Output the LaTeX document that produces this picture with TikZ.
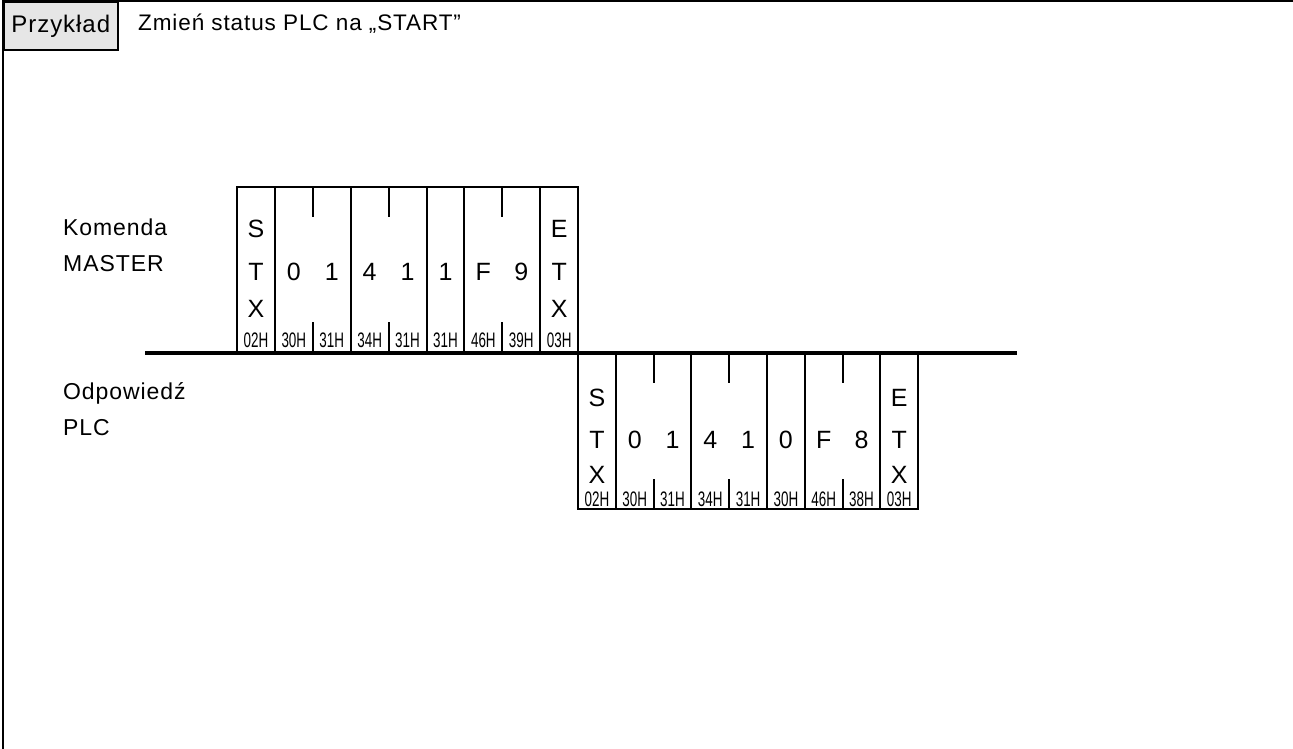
\documentclass[tikz,border=0pt]{standalone}
\usepackage{fontspec}
\setmainfont{Liberation Sans}[LetterSpace=4]
\newfontfamily\hexfont[FakeStretch=0.64]{Liberation Sans}
\usepackage{xcolor}
\usepackage{tikz}
\usetikzlibrary{positioning}
\definecolor{boxgray}{HTML}{E6E6E6}

\begin{document}
\begin{tikzpicture}[
    x=1pt, y=-1pt,
    frame/.style={draw, line width=2pt},
    cell/.style={font=\fontsize{25}{25}\selectfont, inner sep=0pt},
    hex/.style={font=\hexfont\fontsize{21}{21}\selectfont, inner sep=0pt},
    side/.style={font=\fontsize{23}{36}\selectfont, align=left, anchor=west, inner sep=0pt}
]
\useasboundingbox (0,0) rectangle (1293,749);

% Page frame and header
\coordinate (topR) at (1293,1);
\coordinate (topL) at (3,1);
\coordinate (botL) at (3,749);
\draw[line width=2pt] (topR) -- (topL) -- (botL);
\node[draw, line width=1.6pt, fill=boxgray, minimum width=114, minimum height=48, anchor=north west,
      font=\fontsize{24}{24}\selectfont] (przyklad) at (3,1) {Przykład};
\node[font=\fontsize{22.5}{22.5}\selectfont, anchor=west, inner sep=0pt] (title) at (138,24) {Zmień status PLC na „START”};

% Side labels
\node[side] (master) at (63,245) {Komenda\\MASTER};
\node[side] (plc) at (63,409) {Odpowiedź\\PLC};

% Bus line
\coordinate (busL) at (145,353);
\coordinate (busR) at (1017,353);
\draw[line width=4pt] (busL) -- (busR);

% MASTER command
\begin{scope}[shift={(237,187)}]
  \draw[frame] (0,0) rectangle (341,166);
  \foreach \x in {1,3,5,6,8} \draw[frame] (\x*37.9,0) -- (\x*37.9,166);
  \foreach \x in {2,4,7} {
    \draw[frame] (\x*37.9,0) -- ++(0,30);
    \draw[frame] (\x*37.9,166) -- ++(0,-31);
  }
  \node[cell] (mS) at (18.95,42) {S};
  \node[cell] (mT) at (18.95,85) {T};
  \node[cell] (mX) at (18.95,122) {X};
  \node[cell] (mE2) at (8*37.9+18.95,42) {E};
  \node[cell] (mT2) at (8*37.9+18.95,85) {T};
  \node[cell] (mX2) at (8*37.9+18.95,122) {X};
  \foreach \c [count=\i] in {0,1,4,1,1,F,9}
    \node[cell] (m\i) at (\i*37.9+18.95,85) {\c};
  \foreach \h [count=\i from 0] in {02H,30H,31H,34H,31H,31H,46H,39H,03H}
    \node[hex] (mh\i) at (\i*37.9+18.95,153) {\h};
\end{scope}

% PLC response
\begin{scope}[shift={(578,353)}]
  \draw[frame] (0,0) rectangle (340,156);
  \foreach \x in {1,3,5,6,8} \draw[frame] (\x*37.8,0) -- (\x*37.8,156);
  \foreach \x in {2,4,7} {
    \draw[frame] (\x*37.8,0) -- ++(0,30);
    \draw[frame] (\x*37.8,156) -- ++(0,-30);
  }
  \node[cell] (pS) at (18.9,45) {S};
  \node[cell] (pT) at (18.9,87) {T};
  \node[cell] (pX) at (18.9,122) {X};
  \node[cell] (pE2) at (8*37.8+18.9,45) {E};
  \node[cell] (pT2) at (8*37.8+18.9,87) {T};
  \node[cell] (pX2) at (8*37.8+18.9,122) {X};
  \foreach \c [count=\i] in {0,1,4,1,0,F,8}
    \node[cell] (p\i) at (\i*37.8+18.9,87) {\c};
  \foreach \h [count=\i from 0] in {02H,30H,31H,34H,31H,30H,46H,38H,03H}
    \node[hex] (ph\i) at (\i*37.8+18.9,146) {\h};
\end{scope}

\end{tikzpicture}
\end{document}
